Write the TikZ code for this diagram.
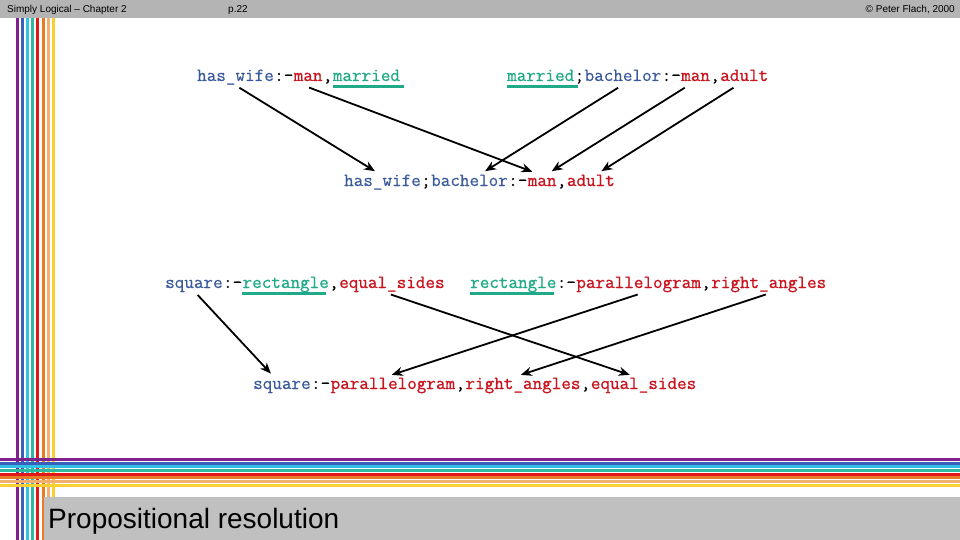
\documentclass[tikz,border=0pt]{standalone}
\usepackage{fontspec}
\setmainfont{Liberation Sans}
\newfontfamily\codefont{Latin Modern Mono}[FakeBold=0.5]
\newfontfamily\codefontdark{Latin Modern Mono}[FakeBold=0.9]
\usetikzlibrary{positioning,arrows.meta}
\definecolor{headgrey}{HTML}{B4B4B4}
\definecolor{titlegrey}{HTML}{C0C0C0}
\definecolor{litblue}{HTML}{3A5A9C}
\definecolor{litred}{HTML}{C8141E}
\definecolor{litteal}{HTML}{20AA88}
\definecolor{stpurple}{HTML}{80208F}
\definecolor{stblue}{HTML}{3A5FB8}
\definecolor{stcyan}{HTML}{30C0E8}
\definecolor{stteal}{HTML}{30B8A0}
\definecolor{stred}{HTML}{E01818}
\definecolor{storange}{HTML}{E87A28}
\definecolor{stpeach}{HTML}{F0B070}
\definecolor{styellow}{HTML}{F8D030}

\begin{document}
\begin{tikzpicture}[x=1pt,y=-1pt,
    tok/.style={font={\codefont\fontsize{18.6}{20}\selectfont}, inner xsep=0pt, inner ysep=2pt,
                text height=11pt, text depth=4pt},
    hd/.style={tok, text=litblue},
    bd/.style={tok, font={\codefontdark\fontsize{18.6}{20}\selectfont}, text=litred},
    ul/.style={tok, font={\codefontdark\fontsize{18.6}{20}\selectfont}, text=litteal},
    sep/.style={tok, text=black},
    uline/.style={litteal, line width=3pt},
    res/.style={-{Stealth[length=11pt,width=9pt]}, line width=1.8pt, shorten >=3pt, shorten <=1pt},
    stripe/.style={line width=3pt}]
  \useasboundingbox (0,0) rectangle (960,540);
  % slide frame
  \fill[white] (0,0) rectangle (960,540);
  \foreach \c/\x in {stpurple/17, stblue/22, stcyan/27, stteal/32, stred/37.5, storange/43, stpeach/48, styellow/53}
    \draw[stripe, \c] (\x,18) -- (\x,540);
  \foreach \c/\y in {stpurple/459.5, stblue/463, stcyan/466.5, stteal/470, stred/474, storange/477.5, stpeach/481, styellow/485.5}
    \draw[stripe, \c] (0,\y) -- (960,\y);
  \fill[headgrey] (0,0) rectangle (960,18);
  \fill[titlegrey] (44,497) rectangle (960,540);
  \node[anchor=base west, inner sep=0pt, font=\fontsize{10}{12}\selectfont] (chap) at (7,12.3) {Simply Logical -- Chapter 2};
  \node[anchor=base west, inner sep=0pt, font=\fontsize{10}{12}\selectfont] (page) at (228,12.3) {p.22};
  \node[anchor=base east, inner sep=0pt, font=\fontsize{10}{12}\selectfont] (copy) at (955,12.3) {\textcopyright{} Peter Flach, 2000};
  \node[anchor=base west, inner sep=0pt, font=\fontsize{28}{30}\selectfont] (title) at (48,528) {Propositional resolution};

  % first resolution
  \node[hd, anchor=base west] (l1hw) at (197,81) {has\_wife};
  \node[sep, right=0pt of l1hw] (l1s1) {:-};
  \node[bd, right=0pt of l1s1] (l1man) {man};
  \node[sep, right=0pt of l1man] (l1s2) {,};
  \node[ul, right=0pt of l1s2] (l1mar) {married};

  \node[ul, anchor=base west] (l2mar) at (507,81) {married};
  \node[sep, right=0pt of l2mar] (l2s1) {;};
  \node[hd, right=0pt of l2s1] (l2bach) {bachelor};
  \node[sep, right=0pt of l2bach] (l2s2) {:-};
  \node[bd, right=0pt of l2s2] (l2man) {man};
  \node[sep, right=0pt of l2man] (l2s3) {,};
  \node[bd, right=0pt of l2s3] (l2ad) {adult};

  \node[hd, anchor=base west] (l3hw) at (344,186) {has\_wife};
  \node[sep, right=0pt of l3hw] (l3s1) {;};
  \node[hd, right=0pt of l3s1] (l3bach) {bachelor};
  \node[sep, right=0pt of l3bach] (l3s2) {:-};
  \node[bd, right=0pt of l3s2] (l3man) {man};
  \node[sep, right=0pt of l3man] (l3s3) {,};
  \node[bd, right=0pt of l3s3] (l3ad) {adult};

  \draw[uline] ([yshift=1pt]l1mar.south west) -- ([xshift=4pt,yshift=1pt]l1mar.south east);
  \draw[uline] ([yshift=1pt]l2mar.south west) -- ([xshift=4pt,yshift=1pt]l2mar.south east);
  \draw[res] ([xshift=3pt]l1hw.south) -- ([xshift=-5pt]l3hw.north);
  \draw[res] (l1man.south) -- ([xshift=-7pt]l3man.north);
  \draw[res] ([xshift=-4pt]l2bach.south) -- ([xshift=13pt]l3bach.north);
  \draw[res] ([xshift=-10pt]l2man.south) -- ([xshift=7pt]l3man.north);
  \draw[res] ([xshift=-10pt]l2ad.south) -- ([xshift=8pt]l3ad.north);

  % second resolution
  \node[hd, anchor=base west] (l4sq) at (165,288) {square};
  \node[sep, right=0pt of l4sq] (l4s1) {:-};
  \node[ul, right=0pt of l4s1] (l4rect) {rectangle};
  \node[sep, right=0pt of l4rect] (l4s2) {,};
  \node[bd, right=0pt of l4s2] (l4eq) {equal\_sides};

  \node[ul, anchor=base west] (l5rect) at (470,288) {rectangle};
  \node[sep, right=0pt of l5rect] (l5s1) {:-};
  \node[bd, right=0pt of l5s1] (l5par) {parallelogram};
  \node[sep, right=0pt of l5par] (l5s2) {,};
  \node[bd, right=0pt of l5s2] (l5ra) {right\_angles};

  \node[hd, anchor=base west] (l6sq) at (253,389) {square};
  \node[sep, right=0pt of l6sq] (l6s1) {:-};
  \node[bd, right=0pt of l6s1] (l6par) {parallelogram};
  \node[sep, right=0pt of l6par] (l6s2) {,};
  \node[bd, right=0pt of l6s2] (l6ra) {right\_angles};
  \node[sep, right=0pt of l6ra] (l6s3) {,};
  \node[bd, right=0pt of l6s3] (l6eq) {equal\_sides};

  \draw[uline] ([yshift=1pt]l4rect.south west) -- ([xshift=-3pt,yshift=1pt]l4rect.south east);
  \draw[uline] ([yshift=1pt]l5rect.south west) -- ([xshift=-3pt,yshift=1pt]l5rect.south east);
  \draw[res] ([xshift=3pt]l4sq.south) -- ([xshift=-9pt]l6sq.north);
  \draw[res] ([xshift=-2pt]l4eq.south) -- ([xshift=-11pt]l6eq.north);
  \draw[res] (l5par.south) -- ([xshift=-4pt]l6par.north);
  \draw[res] ([xshift=-2pt]l5ra.south) -- ([xshift=-5pt]l6ra.north);
\end{tikzpicture}
\end{document}
